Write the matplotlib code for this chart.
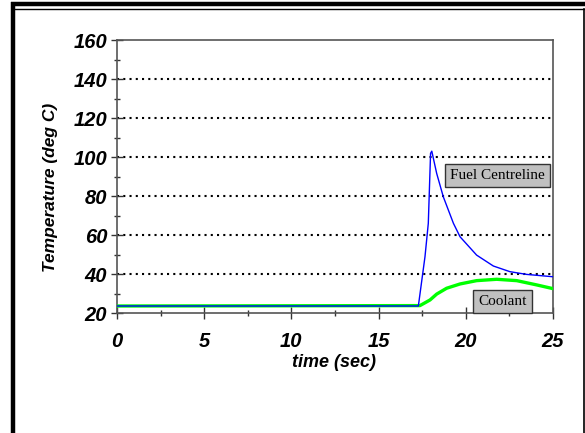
import numpy as np
import matplotlib
matplotlib.use("Agg")
import matplotlib.pyplot as plt
from matplotlib.lines import Line2D
from matplotlib.ticker import MultipleLocator

# values
fuel_t = [0, 17.28, 17.66, 17.85, 17.98, 18.05, 18.33, 18.71, 19.29, 19.67, 20.62, 21.58, 22.53, 23.49, 25]
fuel_T = [23.6, 23.6, 48.9, 66, 101.9, 103, 91.6, 79.6, 66, 59.1, 49.7, 44.1, 41.2, 39.8, 38.6]
cool_t = [0, 17.37, 17.95, 18.33, 18.9, 19.67, 20.62, 21.77, 22.92, 24.07, 25]
cool_T = [23.6, 23.8, 26.7, 29.7, 32.7, 34.9, 36.6, 37.3, 36.6, 34.4, 32.5]
y_ticks = [20, 40, 60, 80, 100, 120, 140, 160]
x_ticks = [0, 5, 10, 15, 20, 25]

tick_font = dict(family="Liberation Sans", weight="bold", style="italic")

fig = plt.figure(figsize=(5.85, 4.33), dpi=100)
ax = fig.add_axes([0.2, 0.2771, 0.7453, 0.6305])

ax.plot(cool_t, cool_T, color="#00ff00", lw=2.4, zorder=3)
ax.plot(fuel_t, fuel_T, color="#0000ff", lw=1.0, zorder=4)

ax.set_xlim(0, 25)
ax.set_ylim(20, 160)
ax.set_xticks(x_ticks)
ax.set_yticks(y_ticks)
ax.xaxis.set_minor_locator(MultipleLocator(2.5))
ax.yaxis.set_minor_locator(MultipleLocator(10))

for g in y_ticks[1:-1]:
    ax.axhline(g, color="black", ls=(0, (1, 2)), lw=1.5, zorder=1)

for s in ax.spines.values():
    s.set_color("#555555")
    s.set_linewidth(1.2)

ax.tick_params(which="major", direction="inout", length=8, width=1, color="#333333")
ax.tick_params(which="minor", direction="inout", length=5, width=1, color="#333333")
ax.tick_params(axis="x", which="major", pad=10)
ax.tick_params(axis="y", which="major", pad=3)
ax.tick_params(top=False, right=False, which="both")

for lab in ax.get_xticklabels() + ax.get_yticklabels():
    lab.set_fontproperties(matplotlib.font_manager.FontProperties(size=14.5, **tick_font))

ax.set_xlabel("time (sec)", fontsize=13, **tick_font)
ax.set_ylabel("Temperature (deg C)", fontsize=12.5, **tick_font)
ax.xaxis.set_label_coords(0.497, -0.183)
ax.xaxis.label.set_va("center")
ax.yaxis.set_label_coords(-0.153, 0.46)
ax.yaxis.label.set_va("center")
ax.yaxis.label.set_rotation_mode("default")

box = dict(boxstyle="square,pad=0.33", facecolor="#c0c0c0", edgecolor="#333333", lw=1)
ax.text(21.8, 90.3, "Fuel Centreline", family="Liberation Serif", fontsize=11,
        ha="center", va="center", bbox=box, zorder=5)
ax.text(22.1, 25.8, "Coolant", family="Liberation Serif", fontsize=11,
        ha="center", va="center", bbox=box, zorder=5, clip_on=False)

# outer frame
W, H = 585.0, 433.0
fig.add_artist(Line2D([13 / W, 13 / W], [0, 1 - 2 / H], color="black", lw=3.2,
                      transform=fig.transFigure, solid_capstyle="butt"))
fig.add_artist(Line2D([11 / W, 1], [1 - 4 / H, 1 - 4 / H], color="black", lw=3.2,
                      transform=fig.transFigure, solid_capstyle="butt"))
fig.add_artist(Line2D([15 / W, 583.5 / W], [1 - 8.5 / H, 1 - 8.5 / H], color="black", lw=1.0,
                      transform=fig.transFigure))
fig.add_artist(Line2D([583.5 / W, 583.5 / W], [0, 1 - 8.5 / H], color="black", lw=1.2,
                      transform=fig.transFigure))

fig.savefig("out.png", dpi=100)
